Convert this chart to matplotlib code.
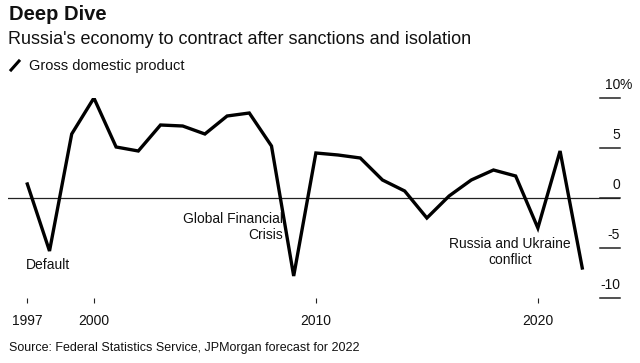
import matplotlib
matplotlib.use('Agg')
import matplotlib.pyplot as plt
from matplotlib.lines import Line2D

# Данные: рост ВВП России, % г/г (2022 - прогноз JPMorgan)
years = list(range(1997, 2023))
gdp = [1.4, -5.3, 6.4, 10.0, 5.1, 4.7, 7.3, 7.2, 6.4, 8.2, 8.5, 5.2, -7.8,
       4.5, 4.3, 4.0, 1.8, 0.7, -2.0, 0.2, 1.8, 2.8, 2.2, -3.0, 4.7, -7.0]
x_ticks = [1997, 2000, 2010, 2020]
y_ticks = [10, 5, 0, -5, -10]
y_labels = ['10', '5', '0', '-5', '-10']

W, H = 640, 363
plt.rcParams['font.family'] = ['Liberation Sans', 'DejaVu Sans']
TXT = '#111111'


def fy(py):
    """Пиксель сверху -> координата фигуры."""
    return 1 - py / H


fig = plt.figure(figsize=(W / 100, H / 100), dpi=100)
fig.patch.set_facecolor('white')

ax = fig.add_axes([8 / W, fy(298), 612 / W, 200 / H])
ax.set_xlim(1996.13, 2023.70)
ax.set_ylim(-10, 10)
for s in ax.spines.values():
    s.set_visible(False)

ax.axhline(0, color='#222222', lw=0.9, zorder=1)
ax.plot(years, gdp, color='black', lw=2.4, solid_joinstyle='miter', zorder=3)

# ось Y справа: короткие линии и подписи над ними
ax.set_yticks([])
tr = ax.get_yaxis_transform()
for v, lab in zip(y_ticks, y_labels):
    ax.plot([0.967, 1.0], [v, v], transform=tr, color='#222222', lw=1.1, clip_on=False)
    ax.annotate(lab, xy=(1.0, v), xycoords=tr, xytext=(0, 6), textcoords='offset pixels',
                ha='right', va='bottom', fontsize=10, color=TXT)
ax.annotate('%', xy=(1.0, 10), xycoords=tr, xytext=(0, 6), textcoords='offset pixels',
            ha='left', va='bottom', fontsize=10, color=TXT)

ax.set_xticks(x_ticks)
ax.set_xticklabels([str(t) for t in x_ticks])
ax.tick_params(axis='x', length=3.6, width=0.8, color='#222222', pad=8,
               labelsize=10, labelcolor=TXT)

# подписи событий
ax.text(1996.93, -6.7, 'Default', ha='left', va='center', fontsize=10, color=TXT)
ax.text(2008.52, -2.9, 'Global Financial\nCrisis', ha='right', va='center',
        fontsize=10, color=TXT, linespacing=1.1)
ax.text(2018.74, -5.4, 'Russia and Ukraine\nconflict', ha='center', va='center',
        fontsize=10, color=TXT, linespacing=1.1)

# заголовки
fig.text(9 / W, fy(15), 'Deep Dive', ha='left', va='center', fontsize=14.5,
         fontweight='bold', color=TXT)
fig.text(8 / W, fy(40), "Russia's economy to contract after sanctions and isolation",
         ha='left', va='center', fontsize=13, color=TXT)
fig.add_artist(Line2D([11 / W, 19 / W], [fy(70), fy(61)], color='black', lw=2.2))
fig.text(29 / W, fy(66), 'Gross domestic product', ha='left', va='center',
         fontsize=10.5, color=TXT)
fig.text(9 / W, fy(348), 'Source: Federal Statistics Service, JPMorgan forecast for 2022',
         ha='left', va='center', fontsize=9, color=TXT)

fig.savefig('out.png', dpi=100, facecolor='white')
